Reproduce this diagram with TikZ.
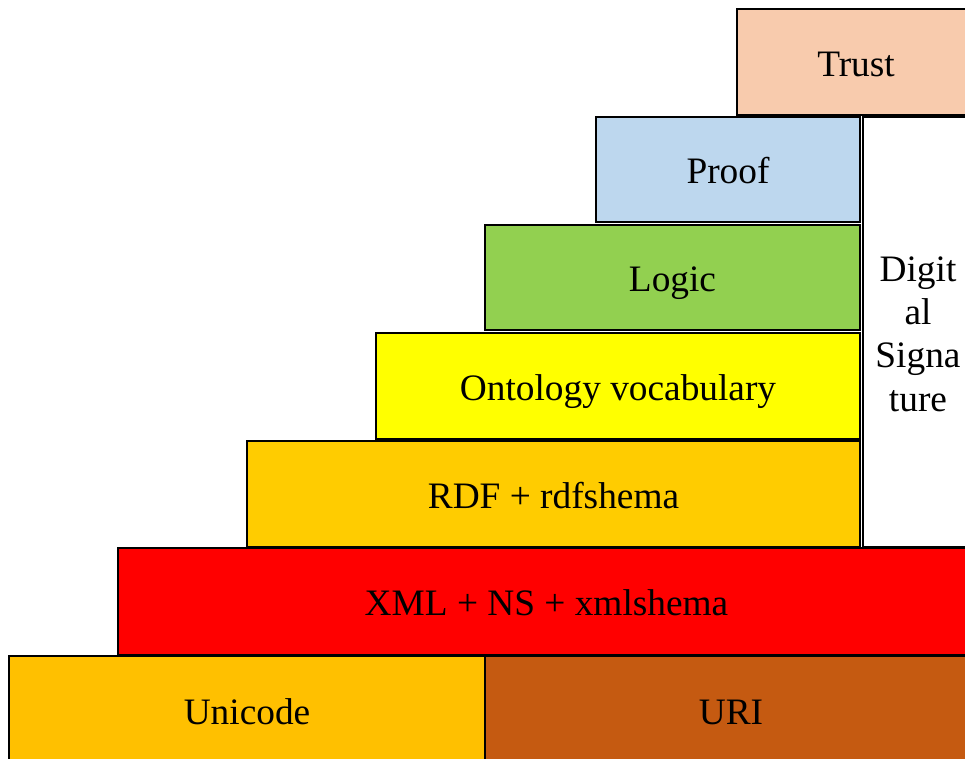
\documentclass[tikz,border=0pt]{standalone}
\usepackage{fontspec}
\setmainfont{Liberation Serif}
\definecolor{trustc}{HTML}{F8CBAD}
\definecolor{proofc}{HTML}{BDD7EE}
\definecolor{logicc}{HTML}{92D050}
\definecolor{ontoc}{HTML}{FFFF00}
\definecolor{rdfc}{HTML}{FFCC00}
\definecolor{xmlc}{HTML}{FF0000}
\definecolor{unic}{HTML}{FFC000}
\definecolor{uric}{HTML}{C55A11}
\tikzset{
  layer/.style={draw=black, line width=2.1pt, rectangle, inner sep=0pt,
    font=\fontsize{28}{32}\selectfont, text=black,
    text height=25pt, text depth=4pt},
}
% \layerbox{name}{x1}{y1}{x2}{y2}{fill}{text}, corners in pixel units
\newcommand\layerbox[7]{%
  \node[layer, fill=#6,
    minimum width={(#4-#2)*0.75pt}, minimum height={(#5-#3)*0.75pt}]
    (#1) at ({(#2+#4)/2},{(#3+#5)/2}) {#7};}
\begin{document}
\begin{tikzpicture}[x=0.75pt, y=-0.75pt]
  \useasboundingbox (0,0) rectangle (965,758);
  \clip (0,0) rectangle (965,758);
  \fill[white] (0,0) rectangle (965,758);
  \layerbox{trust}{737}{9}{975}{115}{trustc}{Trust}
  \layerbox{proof}{596}{117}{860}{222}{proofc}{Proof}
  \layerbox{logic}{485}{225}{860}{330}{logicc}{Logic}
  \layerbox{onto}{376}{333}{860}{439}{ontoc}{Ontology vocabulary}
  \layerbox{rdf}{247}{441}{860}{547}{rdfc}{RDF + rdfshema}
  \layerbox{sig}{863}{117}{975}{547}{white}{}
  \node[font=\fontsize{28}{32.5}\selectfont, align=center, inner sep=0pt]
    (sigtext) at (918,334) {Digit\\al\\Signa\\ture};
  \layerbox{xml}{118}{548}{975}{655}{xmlc}{XML + NS + xmlshema}
  \layerbox{unicode}{9}{656}{485}{764}{unic}{Unicode}
  \layerbox{uri}{485}{656}{977}{764}{uric}{URI}
\end{tikzpicture}
\end{document}
